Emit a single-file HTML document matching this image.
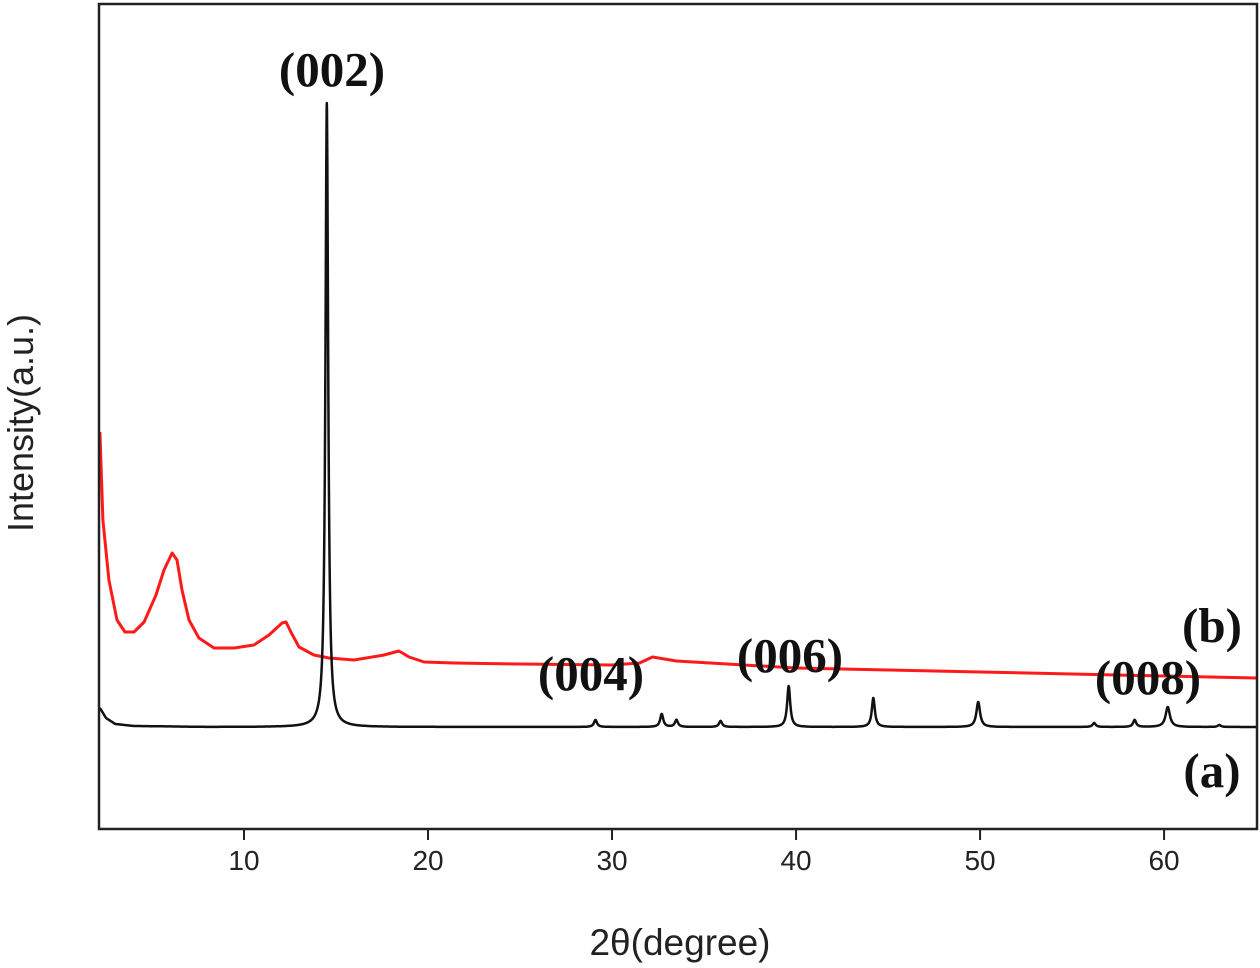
<!DOCTYPE html>
<html><head><meta charset="utf-8"><style>
html,body{margin:0;padding:0;background:#fff;}
svg{display:block;}
.tk{font-family:"Liberation Sans",Arial,sans-serif;font-size:28px;fill:#222;}
.hkl{font-family:"Liberation Serif",serif;font-weight:bold;font-size:49px;fill:#111;}
</style></head><body>
<svg id="chart" width="1260" height="968" viewBox="0 0 1260 968">
<g id="plot"></g>
<rect x="99" y="4" width="1158" height="825" fill="none" stroke="#222" stroke-width="2.5"/>
<g id="xt"></g>
<text x="680" y="955" text-anchor="middle" font-family="Liberation Sans, Arial, sans-serif" font-size="37" fill="#222">2θ(degree)</text>
<text transform="translate(33,423) rotate(-90)" text-anchor="middle" font-family="Liberation Sans, Arial, sans-serif" font-size="36" fill="#222">Intensity(a.u.)</text>
<text class="hkl" x="332" y="86" text-anchor="middle">(002)</text>
<text class="hkl" x="591" y="690" text-anchor="middle">(004)</text>
<text class="hkl" x="790" y="672" text-anchor="middle">(006)</text>
<text class="hkl" x="1148" y="694" text-anchor="middle">(008)</text>
<text class="hkl" x="1212" y="642" text-anchor="middle">(b)</text>
<text class="hkl" x="1212" y="787" text-anchor="middle">(a)</text>
</svg>
<script>
const xTicks=[10,20,30,40,50,60];
const redAngles=[2.17,2.33,2.66,3.1,3.53,4.02,4.57,5.22,5.65,6.09,6.36,6.63,7.01,7.55,8.37,9.46,10.54,11.36,12.07,12.28,12.55,12.99,13.8,14.62,15.98,17.61,18.42,18.97,19.78,21.41,25,30,31.5,32.2,33.5,40,45,50,55,60,65];
const redIntensity=[396,308,248,208,196,196,206,233,258,275,268,238,208,190,180,180,183,193,205,206,196,181,173,170,168,173,177,171,166,165,164,163,165,171,167,160,158,156,154,152,150];
const blackBaseAngles=[2.17,2.5,3,4,8,65];
const blackBaseIntensity=[120,110,104,102,101,101];
const peakAngles=[14.5,29.1,32.7,33.5,35.9,39.6,44.2,49.9,56.2,58.4,60.2,63.0];
const peakHeights=[624,7,13,7,6,41,29,25,4,7,20,2];
const peakWidths=[0.09,0.1,0.1,0.1,0.1,0.1,0.1,0.12,0.1,0.1,0.14,0.1];

const X0=2.12,X1=65.05,PX0=99,PX1=1257;
const sx=d=>PX0+(d-X0)/(X1-X0)*(PX1-PX0);
const sy=v=>828-v;
const ns="http://www.w3.org/2000/svg";
const plot=document.getElementById('plot'),xt=document.getElementById('xt');
function interp(xs,ys,x){if(x<=xs[0])return ys[0];for(let i=1;i<xs.length;i++){if(x<=xs[i]){const t=(x-xs[i-1])/(xs[i]-xs[i-1]);return ys[i-1]+t*(ys[i]-ys[i-1]);}}return ys[ys.length-1];}
let pts=redAngles.map((a,i)=>sx(a).toFixed(1)+','+sy(redIntensity[i]).toFixed(1)).join(' ');
const red=document.createElementNS(ns,'polyline');
red.setAttribute('points',pts);red.setAttribute('fill','none');red.setAttribute('stroke','#ff1a1a');red.setAttribute('stroke-width','3');red.setAttribute('stroke-linejoin','round');


plot.appendChild(red);
let samples=[];
for(let i=0;i<=3145;i++)samples.push(2.17+i*0.02);
samples=samples.concat(peakAngles).sort((a,b)=>a-b);
let bp=samples.map(a=>{let v=interp(blackBaseAngles,blackBaseIntensity,a);
for(let k=0;k<peakAngles.length;k++){const w=peakWidths[k],d=(a-peakAngles[k])/w;v+=peakHeights[k]/(1+d*d);}
return sx(a).toFixed(2)+','+sy(v).toFixed(1);});
const blk=document.createElementNS(ns,'polyline');
blk.setAttribute('points',bp.join(' '));blk.setAttribute('fill','none');blk.setAttribute('stroke','#111');blk.setAttribute('stroke-width','2.5');blk.setAttribute('stroke-linejoin','round');


plot.appendChild(blk);
xTicks.forEach(t=>{const x=sx(t);
const l=document.createElementNS(ns,'line');l.setAttribute('x1',x);l.setAttribute('x2',x);l.setAttribute('y1',829);l.setAttribute('y2',840);l.setAttribute('stroke','#222');l.setAttribute('stroke-width','2');


xt.appendChild(l);
const tx=document.createElementNS(ns,'text');tx.setAttribute('x',x);tx.setAttribute('y',870);tx.setAttribute('text-anchor','middle');tx.setAttribute('class','tk');tx.textContent=t;


xt.appendChild(tx);});
</script>
</body></html>
